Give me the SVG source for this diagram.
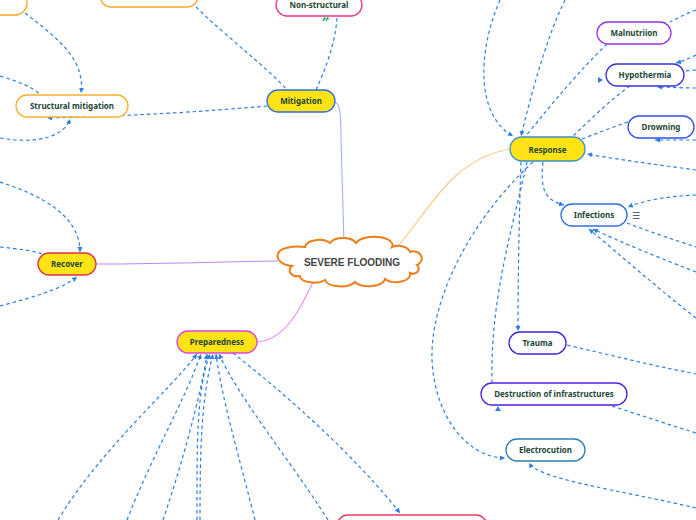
<svg xmlns="http://www.w3.org/2000/svg" width="696" height="520" viewBox="0 0 696 520">
<style>
.n{stroke-width:1.3}
.y{fill:#ffe314}
.w{fill:#ffffff}
.t{font-family:"Noto Sans","Open Sans",sans-serif;font-weight:bold;font-size:8px;fill:#1c4636;text-anchor:middle}
.d{fill:none;stroke:#2b7fe0;stroke-width:1.2;stroke-dasharray:3.5 3}
.s{fill:none;stroke-width:1.1}
</style>
<defs>
<marker id="a" markerUnits="userSpaceOnUse" markerWidth="6" markerHeight="6" refX="5" refY="3" orient="auto">
<path d="M0,0.5 L5,3 L0,5.5 z" fill="#2b7fe0"/>
</marker>
</defs>
<rect width="696" height="520" fill="#ffffff"/>
<g id="connectors">
<path class="s" stroke="#9fb0f8" d="M335,102 C341,104 341,120 341,140 L344,242"/>
<path class="s" stroke="#ffc680" d="M398,246 C430,210 450,160 510,149"/>
<path class="s" stroke="#b888f8" d="M96,264 C180,264 230,261 278,261"/>
<path class="s" stroke="#f088f0" d="M257,342 C285,340 300,310 315,278"/>
<path class="d" marker-end="url(#a)" d="M25,13 C60,40 85,60 81,93"/>
<path class="d" d="M0,76 C20,82 35,88 40,95"/>
<path class="d" marker-end="url(#a)" d="M0,138 C40,145 65,135 70,119"/>
<path class="d" marker-end="url(#a)" d="M267,106 C200,112 130,116 47,118"/>
<path class="d" d="M196,7 C230,40 270,70 287,90"/>
<path class="d" d="M337,18 C335,45 325,70 316,90"/>
<path class="d" marker-end="url(#a)" d="M0,182 C40,195 80,215 80,252"/>
<path class="d" d="M0,247 C20,249 35,251 42,254"/>
<path class="d" marker-end="url(#a)" d="M0,306 C30,298 60,290 77,277"/>
<path class="d" marker-end="url(#a)" d="M500,0 C478,50 475,115 513,136"/>
<path class="d" marker-end="url(#a)" d="M565,0 C545,40 530,100 521,136"/>
<path class="d" d="M607,44 C580,70 555,100 525,137"/>
<path class="d" d="M630,86 C610,100 590,120 572,137"/>
<path class="d" d="M628,122 C610,128 595,134 582,139"/>
<path class="d" marker-end="url(#a)" d="M696,170 C660,165 620,160 587,154"/>
<path class="d" d="M696,10 C685,14 678,18 670,22"/>
<path class="d" marker-end="url(#a)" d="M696,55 C690,58 684,61 676,63"/>
<path class="d" d="M696,70 L685,71"/>
<path class="d" marker-end="url(#a)" d="M696,88 C680,88 670,87 657,87"/>
<path class="d" marker-end="url(#a)" d="M696,140 C680,140 668,140 655,140"/>
<path class="d" marker-end="url(#a)" d="M543,162 C540,190 545,200 564,205"/>
<path class="d" marker-end="url(#a)" d="M696,195 C670,196 645,200 628,207"/>
<path class="d" d="M627,223 C650,232 675,240 696,247"/>
<path class="d" marker-end="url(#a)" d="M696,272 C660,258 620,242 593,229"/>
<path class="d" marker-end="url(#a)" d="M696,318 C660,290 620,255 589,229"/>
<path class="d" d="M567,345 C610,355 650,365 696,374"/>
<path class="d" d="M612,406 C640,415 670,425 696,433"/>
<path class="d" marker-end="url(#a)" d="M696,508 C620,490 540,480 529,463"/>
<path class="d" marker-end="url(#a)" d="M521,162 C519,220 518,280 518,331"/>
<path class="d" d="M527,162 C512,230 490,300 492,383"/>
<path class="d" marker-end="url(#a)" d="M533,162 C470,220 430,300 432,360 C435,420 470,458 505,458"/>
<path class="d" marker-end="url(#a)" d="M58,520 C100,450 170,390 197,354"/>
<path class="d" marker-end="url(#a)" d="M127,520 C150,460 185,400 201,354"/>
<path class="d" marker-end="url(#a)" d="M163,520 C180,470 200,400 207,354"/>
<path class="d" marker-end="url(#a)" d="M197,520 C197,450 196,390 210,354"/>
<path class="d" marker-end="url(#a)" d="M200,520 C200,450 201,400 213,354"/>
<path class="d" marker-end="url(#a)" d="M255,520 C240,460 222,400 216,354"/>
<path class="d" marker-end="url(#a)" d="M328,520 C290,460 240,400 219,354"/>
<path class="d" marker-end="url(#a)" d="M233,353 C280,390 350,450 400,513"/>
<path d="M603,80 l-5,-3 l0,6 z" fill="#2b7fe0"/>
<path d="M498,406 l-3,5 l6,0 z" fill="#2b7fe0"/>
</g>
<g id="topleft-node"><rect class="n w" x="-60" y="-10" width="87" height="25" rx="12" stroke="#f5a623"/></g>
<g id="top-node"><rect class="n w" x="100" y="-15" width="98" height="22" rx="11" stroke="#f5a623"/></g>
<g id="structural"><rect class="n w" x="16" y="95" width="112" height="22" rx="11" stroke="#f5b030"/><text class="t" x="72" y="109">Structural mitigation</text></g>
<g id="nonstructural"><rect class="n w" x="276" y="-6" width="86" height="22" rx="11" stroke="#e6338e"/><text class="t" x="319" y="8">Non-structural</text>
<path d="M323,21 l2,-4 M326,21 l2,-4 M322.5,19 l7,0" stroke="#1fb55a" stroke-width="1.1" fill="none"/></g>
<g id="mitigation"><rect class="n y" x="267" y="90" width="68" height="22" rx="11" stroke="#2f6ee8"/><text class="t" x="301" y="104">Mitigation</text></g>
<g id="center">
<path d="M278,254 A20,8 0 0 1 305,247 A14,8 0 0 1 330,243 A14,8 0 0 1 356,243 A18,8 0 0 1 392,247 A12,8 0 0 1 410,252 A8,7 0 0 1 417,265 A6,5 0 0 1 410,273 A14,8 0 0 1 385,279 A16,8 0 0 1 355,282 A16,8 0 0 1 325,280 A14,7 0 0 1 300,276 A8,6 0 0 1 292,266 A18,10 0 0 1 278,254 Z" fill="#ffffff" stroke="#f07d18" stroke-width="2"/>
<text x="352" y="266" font-family="'Liberation Sans',Arial,sans-serif" font-weight="bold" font-size="10" fill="#444444" text-anchor="middle">SEVERE FLOODING</text></g>
<g id="recover"><rect class="n y" x="38" y="253" width="58" height="22" rx="11" stroke="#d6334f"/><text class="t" x="67" y="267">Recover</text></g>
<g id="preparedness"><rect class="n y" x="177" y="331" width="80" height="22" rx="11" stroke="#e040e0"/><text class="t" x="217" y="345">Preparedness</text></g>
<g id="bottom-node"><rect class="n w" x="337" y="515" width="150" height="22" rx="11" stroke="#e04060"/></g>
<g id="response"><rect class="n y" x="510" y="137" width="75" height="24" rx="12" stroke="#3b8fc9"/><text class="t" x="547.5" y="153" font-size="10" fill="#1a2838">Response</text></g>
<g id="malnutrition"><rect class="n w" x="597" y="22" width="74" height="22" rx="11" stroke="#9b35e8"/><text class="t" x="634" y="36">Malnutriion</text></g>
<g id="hypothermia"><rect class="n w" x="606" y="64" width="78" height="22" rx="11" stroke="#3b30e0"/><text class="t" x="645" y="78">Hypothermia</text></g>
<g id="drowning"><rect class="n w" x="628" y="116" width="66" height="22" rx="11" stroke="#3050f0"/><text class="t" x="661" y="130">Drowning</text></g>
<g id="infections"><rect class="n w" x="561" y="204" width="66" height="22" rx="11" stroke="#2a70e0"/><text class="t" x="594" y="218">Infections</text>
<text x="636" y="219" font-family="'DejaVu Sans',sans-serif" font-size="9" fill="#1c4636" text-anchor="middle">☰</text></g>
<g id="trauma"><rect class="n w" x="509" y="332" width="57" height="22" rx="11" stroke="#4020e0"/><text class="t" x="537.5" y="346">Trauma</text></g>
<g id="destruction"><rect class="n w" x="481" y="383" width="146" height="22" rx="11" stroke="#5020e0"/><text class="t" x="554" y="397">Destruction of infrastructures</text></g>
<g id="electrocution"><rect class="n w" x="506" y="439" width="79" height="22" rx="11" stroke="#2a80b0"/><text class="t" x="545.5" y="453">Electrocution</text></g>
</svg>
